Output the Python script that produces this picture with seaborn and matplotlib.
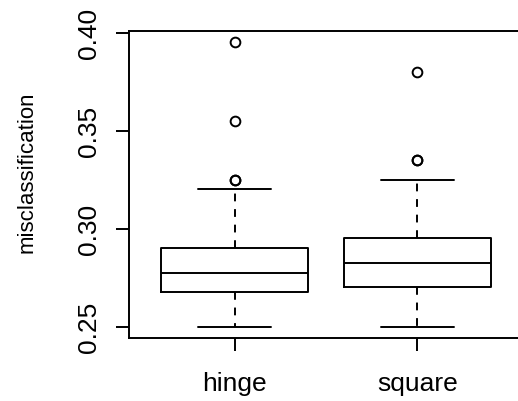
import matplotlib
matplotlib.use("Agg")
import matplotlib.pyplot as plt
import seaborn as sns

# Summary statistics of misclassification rate for each loss
losses = ["hinge", "square"]
lower_whisker = [0.25, 0.25]
first_quartile = [0.2675, 0.27]
medians = [0.2775, 0.2825]
third_quartile = [0.29, 0.295]
upper_whisker = [0.32, 0.325]
outliers = [[0.325, 0.325, 0.355, 0.395], [0.335, 0.335, 0.38]]

yticks = [0.25, 0.30, 0.35, 0.40]
ytick_labels = ["0.25", "0.30", "0.35", "0.40"]

sns.set_theme(style="white")
plt.rcParams["font.family"] = ["Liberation Sans", "DejaVu Sans"]
plt.rcParams["text.color"] = "black"
plt.rcParams["axes.labelcolor"] = "black"
plt.rcParams["xtick.color"] = "black"
plt.rcParams["ytick.color"] = "black"

W, H = 518, 402
left, right, top, bottom = 128.5, 523.5, 32, 339
fig = plt.figure(figsize=(W / 100, H / 100), dpi=100)
ax = fig.add_axes([left / W, (H - bottom) / H, (right - left) / W, (bottom - top) / H])

stats = []
for i, name in enumerate(losses):
    stats.append(dict(label=name, whislo=lower_whisker[i], q1=first_quartile[i],
                      med=medians[i], q3=third_quartile[i],
                      whishi=upper_whisker[i], fliers=outliers[i]))

lw = 1.4
ax.bxp(stats, positions=[0, 1], widths=0.8, showfliers=True,
       boxprops=dict(color="black", linewidth=lw),
       medianprops=dict(color="black", linewidth=lw),
       whiskerprops=dict(color="black", linewidth=lw, linestyle=(0, (4, 4))),
       capprops=dict(color="black", linewidth=lw),
       capwidths=0.4,
       flierprops=dict(marker="o", markerfacecolor="none", markeredgecolor="black",
                       markersize=7, markeredgewidth=1.4, linestyle="none"))

ax.set_xlim(-0.58, 1.58)
ax.set_ylim(0.2442, 0.4008)
ax.set_xticks([0, 1])
ax.set_xticklabels(losses)
ax.set_yticks(yticks)
ax.set_yticklabels(ytick_labels, rotation=90, va="center")
ax.set_ylabel("misclassification", fontsize=16, color="black")
ax.yaxis.set_label_coords((38 - left) / (right - left), (bottom - 172) / (bottom - top))

ax.tick_params(axis="both", which="major", labelsize=19, length=9.6, width=lw,
               color="black", labelcolor="black", direction="out", left=True, bottom=True)
ax.tick_params(axis="x", pad=14)
ax.tick_params(axis="y", pad=10)
for s in ax.spines.values():
    s.set_color("black")
    s.set_linewidth(lw)
ax.grid(False)

fig.savefig("out.png", dpi=100)
